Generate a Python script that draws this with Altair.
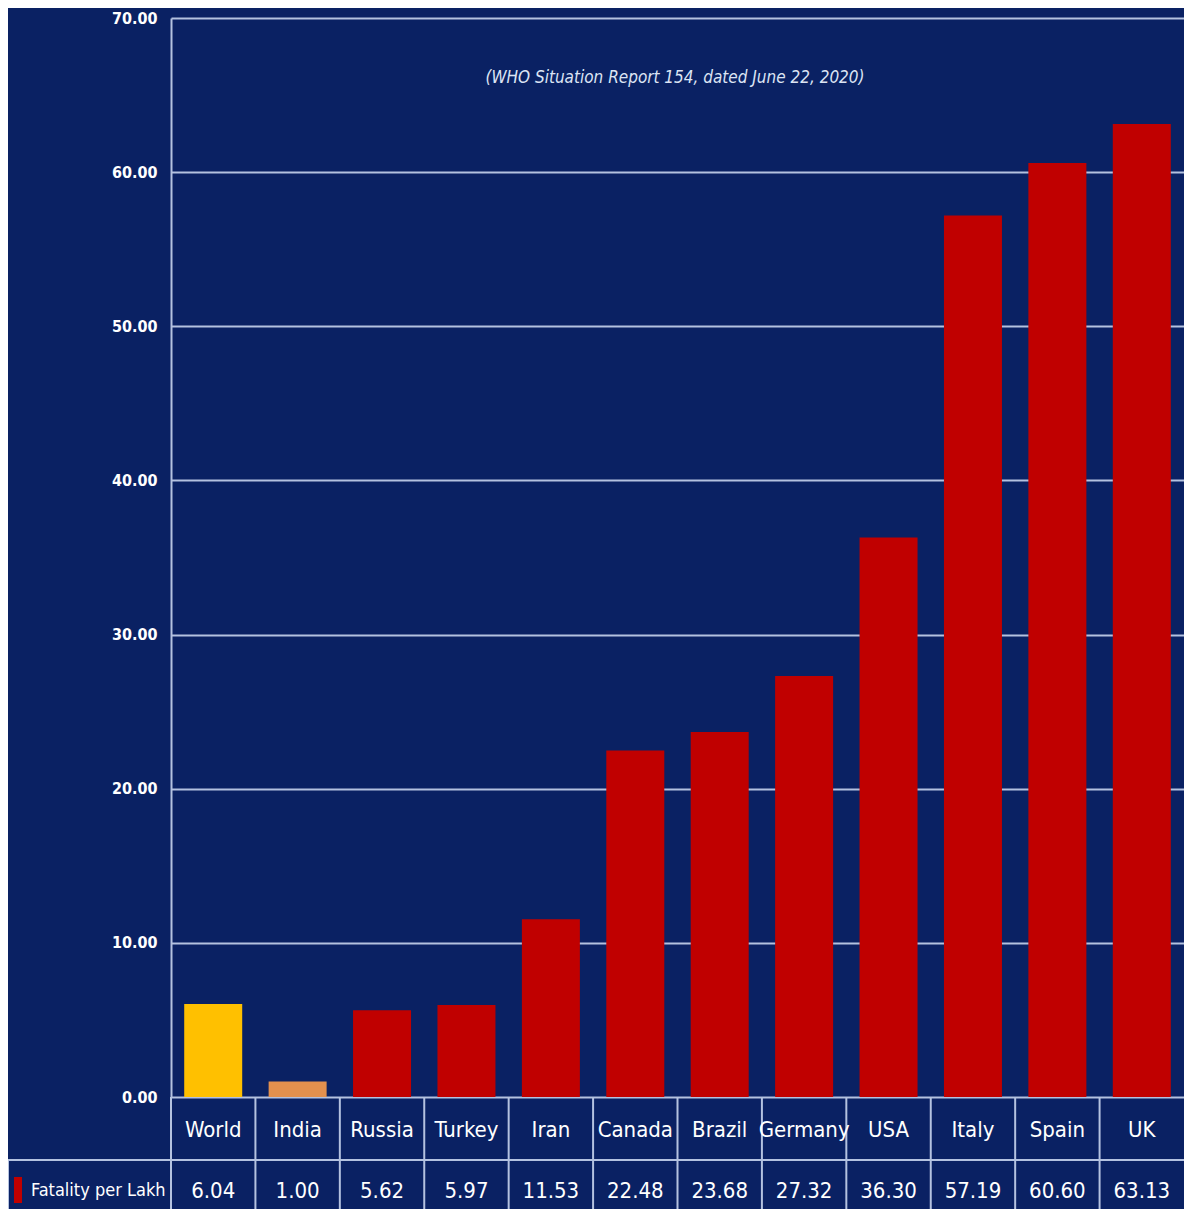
import altair as alt
import pandas as pd

countries = ["World", "India", "Russia", "Turkey", "Iran", "Canada", "Brazil",
             "Germany", "USA", "Italy", "Spain", "UK"]
values = [6.04, 1.00, 5.62, 5.97, 11.53, 22.48, 23.68, 27.32, 36.30, 57.19, 60.60, 63.13]
groups = ["World", "India"] + ["Other"] * 10
y_ticks = [0, 10, 20, 30, 40, 50, 60, 70]
legend_label = "Fatality per Lakh"
subtitle = "(WHO Situation Report 154, dated June 22, 2020)"

df = pd.DataFrame({"country": countries, "value": values, "group": groups})
df["label"] = [f"{v:.2f}" for v in values]

FONT = "DejaVu Sans Condensed"
BG = "#0A2163"
LINE = "#B4C2E0"
W, H = 1013, 1079

x_enc = alt.X("country:N", sort=countries, axis=None,
              scale=alt.Scale(paddingInner=0, paddingOuter=0))

base = alt.Chart(df)

bars = base.mark_bar(width=58).encode(
    x=x_enc,
    y=alt.Y("value:Q", scale=alt.Scale(domain=[0, 70], nice=False),
            axis=alt.Axis(values=y_ticks, format=".2f", title=None,
                          labelFont=FONT, labelFontSize=16, labelColor="white",
                          labelFontWeight="bold", labelPadding=14, ticks=False,
                          domain=True, domainColor=LINE, domainWidth=2,
                          grid=True, gridColor=LINE, gridWidth=2)),
    color=alt.Color("group:N", legend=None,
                    scale=alt.Scale(domain=["World", "India", "Other"],
                                    range=["#FFC000", "#E3904E", "#C00000"])),
)

cat_text = base.mark_text(font=FONT, fontSize=22, color="white",
                          baseline="middle").encode(
    x=x_enc, y=alt.value(1112), text="country:N")

val_text = base.mark_text(font=FONT, fontSize=22, color="white",
                          baseline="middle").encode(
    x=x_enc, y=alt.value(1173), text="label:N")

vlines = base.mark_rule(color=LINE, strokeWidth=2).encode(
    x=alt.X("country:N", sort=countries, axis=None, bandPosition=0,
            scale=alt.Scale(paddingInner=0, paddingOuter=0)),
    y=alt.value(H), y2=alt.value(H + 140))

meta = pd.DataFrame({"label": [legend_label]})
mbase = alt.Chart(meta)

hline = mbase.mark_rule(color=LINE, strokeWidth=2).encode(
    x=alt.value(-163), x2=alt.value(W), y=alt.value(H + 63))
left_border = mbase.mark_rule(color=LINE, strokeWidth=2).encode(
    x=alt.value(-163), y=alt.value(H + 63), y2=alt.value(H + 140))
legend_sq = mbase.mark_rect(color="#C00000").encode(
    x=alt.value(-157), x2=alt.value(-149), y=alt.value(H + 80), y2=alt.value(H + 106))
legend_txt = mbase.mark_text(font=FONT, fontSize=18, color="white",
                             align="left", baseline="middle").encode(
    x=alt.value(-140), y=alt.value(1173), text="label:N")

sub = alt.Chart(pd.DataFrame({"t": [subtitle]})).mark_text(
    font=FONT, fontSize=17, fontStyle="italic", color="#DCE4F4",
    align="center", baseline="middle").encode(
    x=alt.value(504), y=alt.value(60), text="t:N")

chart = alt.layer(bars, vlines, hline, left_border, cat_text, val_text,
                  legend_sq, legend_txt, sub).properties(
    width=W, height=H,
    autosize=alt.AutoSizeParams(type="none"),
    padding={"left": 163, "top": 10, "right": 0, "bottom": 112},
    background=BG,
).configure_view(stroke=None)

chart.save("out.html", embed_options={"renderer": "svg", "actions": False})
